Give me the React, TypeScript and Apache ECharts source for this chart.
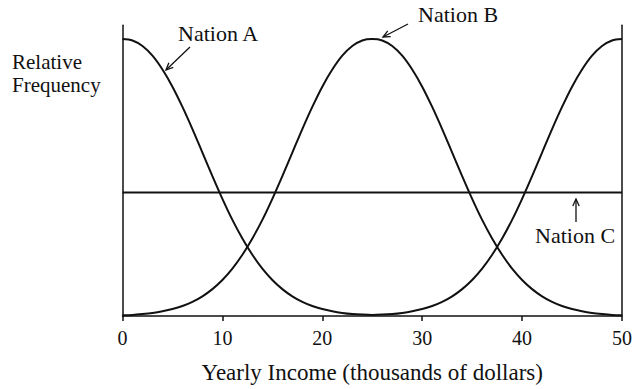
import React, { useEffect, useRef } from "react";
import * as echarts from "echarts";

const INCOME: number[] = Array.from({ length: 51 }, (_, i) => i);

const NATION_A: number[] = [
  1.0, 0.995, 0.975, 0.94, 0.89, 0.828, 0.755, 0.675, 0.59, 0.505, 0.423,
  0.347, 0.28, 0.221, 0.171, 0.13, 0.097, 0.071, 0.051, 0.036, 0.025, 0.017,
  0.011, 0.007, 0.005, 0.004, 0.005, 0.007, 0.011, 0.017, 0.025, 0.036, 0.051,
  0.071, 0.097, 0.13, 0.171, 0.221, 0.28, 0.347, 0.423, 0.505, 0.59, 0.675,
  0.755, 0.828, 0.89, 0.94, 0.975, 0.995, 1.0,
];

const NATION_B: number[] = [
  0.003, 0.004, 0.007, 0.011, 0.017, 0.025, 0.036, 0.051, 0.071, 0.097, 0.13,
  0.171, 0.221, 0.28, 0.347, 0.423, 0.505, 0.59, 0.675, 0.755, 0.828, 0.89,
  0.94, 0.975, 0.995, 1.0, 0.995, 0.975, 0.94, 0.89, 0.828, 0.755, 0.675, 0.59,
  0.505, 0.423, 0.347, 0.28, 0.221, 0.171, 0.13, 0.097, 0.071, 0.051, 0.036,
  0.025, 0.017, 0.011, 0.007, 0.004, 0.003,
];

const NATION_C_X: number[] = [0, 50];
const NATION_C: number[] = [0.446, 0.446];

const X_TICKS: number[] = [0, 10, 20, 30, 40, 50];

const INK = "#111";
const SERIF = "'Liberation Serif', 'Times New Roman', serif";

function arrow(x1: number, y1: number, x2: number, y2: number) {
  const dx = x2 - x1;
  const dy = y2 - y1;
  const len = Math.hypot(dx, dy);
  const ux = dx / len;
  const uy = dy / len;
  const h = 7;
  const w = 3.2;
  const bx = x2 - ux * h;
  const by = y2 - uy * h;
  const px = -uy;
  const py = ux;
  return {
    type: "group",
    children: [
      {
        type: "line",
        shape: { x1, y1, x2, y2 },
        style: { stroke: INK, lineWidth: 1.3 },
      },
      {
        type: "polyline",
        shape: {
          points: [
            [bx + px * w, by + py * w],
            [x2, y2],
            [bx - px * w, by - py * w],
          ],
        },
        style: { stroke: INK, lineWidth: 1.3, fill: null },
      },
    ],
  };
}

function label(text: string, x: number, y: number, size = 22) {
  return {
    type: "text",
    x,
    y,
    style: {
      text,
      fill: INK,
      font: `${size}px ${SERIF}`,
      textAlign: "left",
      verticalAlign: "middle",
    },
  };
}

export default function App() {
  const ref = useRef<HTMLDivElement>(null);

  useEffect(() => {
    if (!ref.current) return;
    const chart = echarts.init(ref.current, null, { renderer: "svg" });
    const lineStyle = { color: INK, width: 2 };
    chart.setOption({
      animation: false,
      backgroundColor: "#fff",
      grid: { left: 122.5, right: 12.5, top: 25.2, bottom: 67.3 },
      xAxis: {
        type: "value",
        min: 0,
        max: 50,
        interval: 10,
        name: "Yearly Income (thousands of dollars)",
        nameLocation: "middle",
        nameGap: 45,
        nameTextStyle: { color: INK, fontFamily: SERIF, fontSize: 23 },
        axisLine: { show: true, lineStyle: { color: INK, width: 1.5 } },
        axisTick: { show: true, length: 5, lineStyle: { color: INK, width: 1.5 } },
        axisLabel: {
          color: INK,
          fontFamily: SERIF,
          fontSize: 20,
          margin: 12,
          formatter: (v: number) => (X_TICKS.includes(v) ? String(v) : ""),
        },
        splitLine: { show: false },
      },
      yAxis: [
        {
          type: "value",
          min: 0,
          max: 1.05,
          position: "left",
          axisLine: { show: true, lineStyle: { color: INK, width: 1.5 } },
          axisTick: { show: false },
          axisLabel: { show: false },
          splitLine: { show: false },
        },
        {
          type: "value",
          min: 0,
          max: 1.05,
          position: "right",
          axisLine: { show: true, lineStyle: { color: INK, width: 1.5 } },
          axisTick: { show: false },
          axisLabel: { show: false },
          splitLine: { show: false },
        },
      ],
      series: [
        {
          name: "Nation A",
          type: "line",
          data: INCOME.map((x, i) => [x, NATION_A[i]]),
          smooth: 0.3,
          showSymbol: false,
          lineStyle,
        },
        {
          name: "Nation B",
          type: "line",
          data: INCOME.map((x, i) => [x, NATION_B[i]]),
          smooth: 0.3,
          showSymbol: false,
          lineStyle,
        },
        {
          name: "Nation C",
          type: "line",
          data: NATION_C_X.map((x, i) => [x, NATION_C[i]]),
          showSymbol: false,
          lineStyle,
        },
      ],
      graphic: [
        label("Relative", 12, 61.5, 21),
        label("Frequency", 12, 84.5, 21),
        label("Nation A", 178, 33.3),
        label("Nation B", 418, 14.2),
        label("Nation C", 535, 235.8),
        arrow(190, 47, 166, 70),
        arrow(408, 24, 383, 37),
        arrow(576, 222, 576, 199),
      ],
    });
    return () => chart.dispose();
  }, []);

  return (
    <div
      ref={ref}
      style={{ position: "fixed", left: 0, top: 0, width: 635, height: 389, background: "#fff" }}
    />
  );
}
